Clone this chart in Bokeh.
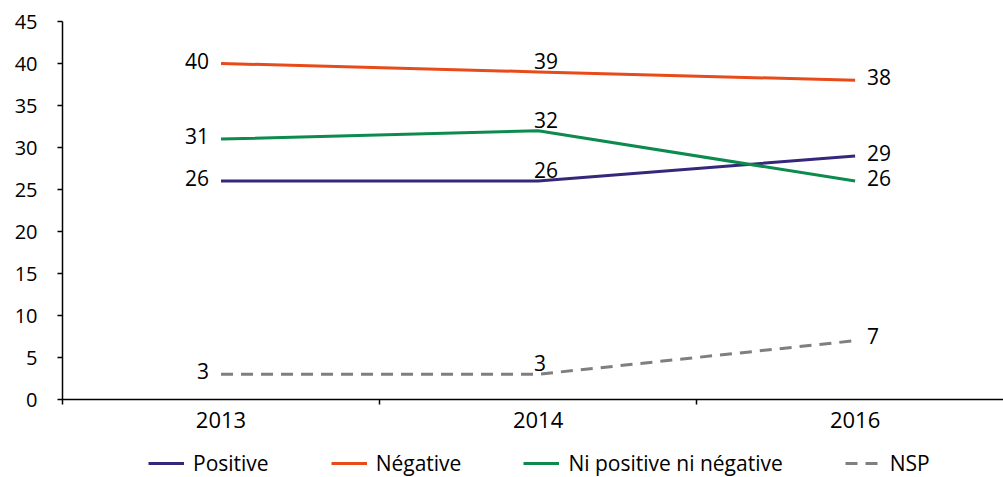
from bokeh.plotting import figure
from bokeh.layouts import column
from bokeh.models import (ColumnDataSource, FixedTicker, Legend, LegendItem, Range1d, LabelSet)
from bokeh.core.properties import value
from bokeh.embed import file_html
from bokeh.resources import INLINE

years = ["2013", "2014", "2016"]
positive = [26, 26, 29]
negative = [40, 39, 38]
neutre = [31, 32, 26]
nsp = [3, 3, 7]
series_names = ["Positive", "Négative", "Ni positive ni négative", "NSP"]
y_ticks = [0, 5, 10, 15, 20, 25, 30, 35, 40, 45]

colors = ["#35287a", "#e84a1a", "#0d8a4e", "#7f7f7f"]
dashes = ["solid", "solid", "solid", "12 8"]
FONT = "Open Sans"

xs = [i + 0.5 for i in range(len(years))]

p = figure(width=1003, height=449, output_backend="svg", toolbar_location=None,
           x_range=Range1d(0, 2.968), y_range=Range1d(0, 45),
           min_border_left=62, min_border_right=0, min_border_top=21, min_border_bottom=50)
p.outline_line_color = None
p.grid.visible = False

for vals, col, dash in zip([positive, negative, neutre, nsp], colors, dashes):
    p.line(xs, vals, line_color=col, line_width=3, line_dash=dash)

# y axis
ya = p.yaxis[0]
ya.ticker = FixedTicker(ticks=y_ticks)
ya.major_tick_out = 5
ya.major_tick_in = 0
ya.minor_tick_out = 0
ya.minor_tick_in = 0
ya.axis_line_color = "black"
ya.axis_line_width = 1.5
ya.major_tick_line_width = 1.5
ya.major_label_standoff = 20
ya.major_label_text_font = FONT
ya.major_label_text_font_size = "20px"
ya.major_label_text_color = "black"

# x axis: labels at category centres, minor ticks at boundaries
xa = p.xaxis[0]
xa.ticker = FixedTicker(ticks=xs, minor_ticks=[0, 1, 2, 3])
xa.major_label_overrides = {x: y for x, y in zip(xs, years)}
xa.major_tick_out = 0
xa.major_tick_in = 0
xa.minor_tick_out = 5
xa.minor_tick_in = 0
xa.minor_tick_line_color = "black"
xa.minor_tick_line_width = 1.5
xa.axis_line_color = "black"
xa.axis_line_width = 1.5
xa.major_label_standoff = 7
xa.major_label_text_font = FONT
xa.major_label_text_font_size = "22px"
xa.major_label_text_color = "black"

# data labels
def add_labels(vals, idx, align, xoff, yoff, baseline):
    src = ColumnDataSource(dict(x=[xs[i] for i in idx], y=[vals[i] for i in idx],
                                t=[str(vals[i]) for i in idx]))
    p.add_layout(LabelSet(x="x", y="y", text="t", source=src, x_offset=xoff, y_offset=yoff,
                          text_align=align, text_baseline=baseline, text_font=value(FONT),
                          text_font_size=value("21px"), text_color="black"))

for vals, dy_right in zip([positive, negative, neutre, nsp], [3, 3, 3, 5]):
    add_labels(vals, [0], "right", -12, 3, "middle")
    add_labels(vals, [1], "left", -4, 3, "bottom")
    add_labels(vals, [2], "left", 12, dy_right, "middle")

# legend strip (placeholder renderers lie outside the strip's visible range)
q = figure(width=1003, height=28, output_backend="svg", toolbar_location=None,
           x_range=Range1d(0, 1), y_range=Range1d(0, 1),
           min_border=0, min_border_left=0, min_border_right=0, min_border_top=0, min_border_bottom=0)
q.axis.visible = False
q.grid.visible = False
q.outline_line_color = None
leg_renderers = [q.line([5, 6], [5, 5], line_color=c, line_width=3, line_dash=d)
                 for c, d in zip(colors, dashes)]
legend = Legend(items=[LegendItem(label=n, renderers=[r]) for n, r in zip(series_names, leg_renderers)],
                orientation="horizontal", location=(86, 0),
                glyph_width=36, glyph_height=20, label_standoff=9, spacing=62,
                padding=0, margin=0, border_line_color=None, background_fill_alpha=0,
                label_text_font=FONT, label_text_font_size="21px", label_text_color="black")
q.add_layout(legend, "center")

layout = column(p, q, spacing=0)
open("out.html", "w").write(file_html(layout, INLINE))
